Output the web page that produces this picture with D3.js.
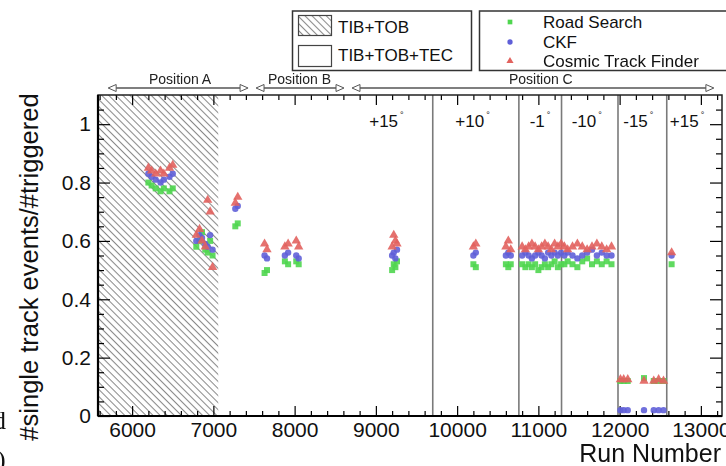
<!DOCTYPE html>
<html>
<head>
<meta charset="utf-8">
<script src="https://cdn.jsdelivr.net/npm/d3@7"></script>
<style>
  html, body { margin: 0; padding: 0; background: #fff; }
  svg { display: block; font-family: "Liberation Sans", Arial, Helvetica, sans-serif; }
</style>
</head>
<body>
<svg id="chart" width="726" height="466"></svg>
<script>
// Run numbers and single-track efficiency per tracking algorithm
const runs = [
  6200, 6240, 6290, 6350, 6390, 6460, 6500,
  6790, 6830, 6860, 6900, 6930, 6960, 6990,
  7270, 7300,
  7630, 7660,
  7880, 7920, 8020, 8050,
  9200, 9220, 9240, 9260,
  10200, 10230,
  10600, 10630, 10660,
  10800, 10840, 10880, 10920, 10960, 11000, 11040, 11080, 11120, 11160, 11200, 11240,
  11280, 11320, 11360, 11420, 11480, 11540, 11600, 11660, 11720, 11780, 11840, 11900,
  12010, 12050, 12100, 12300, 12420, 12480, 12540,
  12640
];
const roadSearch = [
  0.80, 0.79, 0.78, 0.77, 0.78, 0.77, 0.78,
  0.58, 0.60, 0.63, 0.57, 0.56, 0.60, 0.55,
  0.65, 0.66,
  0.49, 0.50,
  0.53, 0.52, 0.53, 0.52,
  0.50, 0.52, 0.51, 0.53,
  0.52, 0.51,
  0.52, 0.51, 0.52,
  0.52, 0.51, 0.52, 0.51, 0.52, 0.50, 0.51, 0.52, 0.51, 0.52, 0.53, 0.51,
  0.52, 0.52, 0.53, 0.52, 0.51, 0.53, 0.54, 0.52, 0.53, 0.52, 0.53, 0.52,
  0.12, 0.12, 0.12, 0.13, 0.12, 0.12, 0.12,
  0.52
];
const ckf = [
  0.83, 0.82, 0.81, 0.80, 0.81, 0.82, 0.83,
  0.60, 0.62, 0.61, 0.59, 0.58, 0.62, 0.57,
  0.71, 0.72,
  0.55, 0.54,
  0.55, 0.56, 0.55, 0.54,
  0.55, 0.56, 0.54, 0.57,
  0.55, 0.56,
  0.55, 0.56, 0.55,
  0.55, 0.56, 0.55, 0.54, 0.55, 0.56, 0.55, 0.54, 0.56, 0.55, 0.56, 0.55,
  0.56, 0.55, 0.56, 0.55, 0.54, 0.55, 0.56, 0.57, 0.55, 0.56, 0.55, 0.55,
  0.02, 0.02, 0.02, 0.02, 0.02, 0.02, 0.02,
  0.55
];
const cosmicTF = [
  0.85, 0.84, 0.83, 0.84, 0.83, 0.85, 0.86,
  0.62, 0.64, 0.60, 0.58, 0.74, 0.70, 0.51,
  0.73, 0.75,
  0.59, 0.57,
  0.58, 0.59, 0.60, 0.58,
  0.58, 0.62, 0.60, 0.59,
  0.58, 0.59,
  0.58, 0.60, 0.57,
  0.58, 0.57, 0.58, 0.59, 0.58, 0.57, 0.58, 0.59, 0.58, 0.57, 0.59, 0.58,
  0.59, 0.58, 0.57, 0.58, 0.59, 0.58, 0.57, 0.58, 0.59, 0.58, 0.57, 0.58,
  0.125, 0.125, 0.125, 0.12, 0.12, 0.125, 0.12,
  0.56
];

// Detector configuration and geometry annotations (in run numbers)
const tibTobEndRun = 7060;
const separatorRuns = [9700, 10760, 11285, 11980, 12580];
const angleLabels = ["+15", "+10", "-1", "-10", "-15", "+15"];
const angleLabelRuns = [9130, 10190, 11020, 11595, 12230, 12830];
const positionNames = ["Position A", "Position B", "Position C"];
const positionStartRuns = [5705, 7525, 8706];
const positionEndRuns = [7427, 8608, 13160];
const positionLabelRuns = [6590, 8060, 11030];

// Axis ticks
const xMajorTicks = [6000, 7000, 8000, 9000, 10000, 11000, 12000, 13000];
const xMinorTicks = d3.range(5600, 13300, 200).filter(v => v % 1000 !== 0);
const yMajorTicks = [0, 0.2, 0.4, 0.6, 0.8, 1];
const yMinorTicks = [0.05, 0.1, 0.15, 0.25, 0.3, 0.35, 0.45, 0.5, 0.55, 0.65, 0.7, 0.75, 0.85, 0.9, 0.95, 1.05];

const seriesNames = ["Road Search", "CKF", "Cosmic Track Finder"];
const seriesColors = ["#4fd64f", "#5f5fd8", "#e2625e"];

const svg = d3.select("#chart");
const plot = { left: 98, right: 722, top: 95, bottom: 416 };

const x = d3.scaleLinear().domain([5580, 13260]).range([plot.left, plot.right]);
const y = d3.scaleLinear().domain([0, 1.1]).range([plot.bottom, plot.top]);

// Hatch pattern for the TIB+TOB period
const defs = svg.append("defs");
defs.append("pattern")
  .attr("id", "hatch")
  .attr("patternUnits", "userSpaceOnUse")
  .attr("width", 5).attr("height", 5)
  .attr("patternTransform", "rotate(45)")
  .append("line")
  .attr("x1", 0).attr("y1", 0.5).attr("x2", 5).attr("y2", 0.5)
  .attr("stroke", "#8a8a8a").attr("stroke-width", 1.1);

defs.append("clipPath").attr("id", "plotclip")
  .append("rect")
  .attr("x", plot.left).attr("y", plot.top)
  .attr("width", plot.right - plot.left).attr("height", plot.bottom - plot.top);

// Soft edge for the small markers
defs.append("filter").attr("id", "soft")
  .attr("x", "-50%").attr("y", "-50%").attr("width", "200%").attr("height", "200%")
  .append("feGaussianBlur").attr("stdDeviation", 0.6);

// Hatched band
svg.append("rect")
  .attr("x", x(5580)).attr("y", plot.top)
  .attr("width", x(tibTobEndRun) - x(5580))
  .attr("height", plot.bottom - plot.top)
  .attr("fill", "url(#hatch)");

// Angle separators
svg.append("g").selectAll("line")
  .data(separatorRuns).join("line")
  .attr("x1", d => x(d)).attr("x2", d => x(d))
  .attr("y1", plot.top).attr("y2", plot.bottom)
  .attr("stroke", "#7a7a7a").attr("stroke-width", 1.6);

// Angle labels
const angleG = svg.append("g").attr("font-size", 17).attr("fill", "#111");
angleLabels.forEach((lab, i) => {
  const t = angleG.append("text")
    .attr("x", x(angleLabelRuns[i])).attr("y", 127)
    .attr("text-anchor", "middle");
  t.append("tspan").text(lab);
  t.append("tspan").attr("font-size", 9).attr("dx", 2).attr("dy", -9).text("°");
});

// Axes: major and minor ticks drawn inside the frame
function tickAxis(axis, vals, size, labels) {
  return axis.tickValues(vals).tickSizeInner(-size).tickSizeOuter(0)
    .tickFormat(labels ? labels : () => "");
}
function styleAxis(g) {
  g.select(".domain").remove();
  g.selectAll(".tick line").attr("stroke", "#000").attr("stroke-width", 1.2);
}

svg.append("g").attr("transform", `translate(0,${plot.bottom})`)
  .call(tickAxis(d3.axisBottom(x), xMajorTicks, 10, d => String(d)).tickPadding(6))
  .call(styleAxis)
  .call(g => g.selectAll("text").attr("font-size", 21).attr("fill", "#111")
    .attr("font-family", "Liberation Sans, Arial, sans-serif"));
svg.append("g").attr("transform", `translate(0,${plot.bottom})`)
  .call(tickAxis(d3.axisBottom(x), xMinorTicks, 5)).call(styleAxis);
svg.append("g").attr("transform", `translate(0,${plot.top})`)
  .call(tickAxis(d3.axisTop(x), xMajorTicks, 10)).call(styleAxis);
svg.append("g").attr("transform", `translate(0,${plot.top})`)
  .call(tickAxis(d3.axisTop(x), xMinorTicks, 5)).call(styleAxis);

svg.append("g").attr("transform", `translate(${plot.left},0)`)
  .call(tickAxis(d3.axisLeft(y), yMajorTicks, 12, d => String(d)).tickPadding(7))
  .call(styleAxis)
  .call(g => g.selectAll("text").attr("font-size", 21).attr("fill", "#111")
    .attr("font-family", "Liberation Sans, Arial, sans-serif"));
svg.append("g").attr("transform", `translate(${plot.left},0)`)
  .call(tickAxis(d3.axisLeft(y), yMinorTicks, 6)).call(styleAxis);
svg.append("g").attr("transform", `translate(${plot.right},0)`)
  .call(tickAxis(d3.axisRight(y), yMajorTicks, 12)).call(styleAxis);
svg.append("g").attr("transform", `translate(${plot.right},0)`)
  .call(tickAxis(d3.axisRight(y), yMinorTicks, 6)).call(styleAxis);

// Frame
svg.append("rect")
  .attr("x", plot.left).attr("y", plot.top)
  .attr("width", plot.right - plot.left).attr("height", plot.bottom - plot.top)
  .attr("fill", "none").attr("stroke", "#222").attr("stroke-width", 1.5);
svg.append("line")
  .attr("x1", plot.left).attr("x2", plot.left).attr("y1", plot.top).attr("y2", plot.bottom)
  .attr("stroke", "#000").attr("stroke-width", 2.2);
svg.append("line")
  .attr("x1", plot.left).attr("x2", plot.right).attr("y1", plot.bottom).attr("y2", plot.bottom)
  .attr("stroke", "#000").attr("stroke-width", 2.2);

// Markers
const sym = [d3.symbolSquare, d3.symbolCircle, d3.symbolTriangle];
const symSize = [36, 32, 38];
const seriesValues = [roadSearch, ckf, cosmicTF];
const markG = svg.append("g").attr("clip-path", "url(#plotclip)")
  .append("g").attr("filter", "url(#soft)");
seriesValues.forEach((vals, s) => {
  markG.append("g").selectAll("path")
    .data(runs.map((r, i) => [r, vals[i]])).join("path")
    .attr("transform", d => `translate(${x(d[0])},${y(d[1])})`)
    .attr("d", d3.symbol(sym[s], symSize[s]))
    .attr("fill", seriesColors[s])
    .attr("fill-opacity", 0.9);
});

// Position arrows above the frame
const posG = svg.append("g");
function arrowHead(g, xTip, yy, dir) {
  const len = 8, half = 3.5;
  g.append("path")
    .attr("d", `M${xTip},${yy} L${xTip - dir * len},${yy - half} L${xTip - dir * len},${yy + half} Z`)
    .attr("fill", "#fff").attr("stroke", "#555").attr("stroke-width", 1);
}
positionNames.forEach((name, i) => {
  const x1 = x(positionStartRuns[i]), x2 = x(positionEndRuns[i]);
  const yy = 88;
  posG.append("line").attr("x1", x1 + 6).attr("x2", x2 - 6).attr("y1", yy).attr("y2", yy)
    .attr("stroke", "#555").attr("stroke-width", 1.3);
  arrowHead(posG, x1, yy, -1);
  arrowHead(posG, x2, yy, 1);
  posG.append("text")
    .attr("x", x(positionLabelRuns[i])).attr("y", 84)
    .attr("text-anchor", "middle").attr("font-size", 14).attr("fill", "#222")
    .text(name);
});

// Axis titles
svg.append("text")
  .attr("x", 721).attr("y", 462).attr("text-anchor", "end")
  .attr("font-size", 25).attr("fill", "#111").text("Run Number");
svg.append("text")
  .attr("transform", "translate(38,267) rotate(-90)")
  .attr("text-anchor", "middle").attr("font-size", 25.5).attr("fill", "#111")
  .text("#single track events/#triggered");

// Detector legend
const leg1 = svg.append("g");
leg1.append("rect").attr("x", 292.5).attr("y", 11).attr("width", 179).attr("height", 59.5)
  .attr("fill", "#fff").attr("stroke", "#333").attr("stroke-width", 1.5);
leg1.append("rect").attr("x", 298.5).attr("y", 15.5).attr("width", 33).attr("height", 20)
  .attr("fill", "url(#hatch)").attr("stroke", "#444").attr("stroke-width", 1.2);
leg1.append("rect").attr("x", 298.5).attr("y", 45.5).attr("width", 33).attr("height", 21)
  .attr("fill", "#fff").attr("stroke", "#444").attr("stroke-width", 1.2);
leg1.append("text").attr("x", 338).attr("y", 33).attr("font-size", 17).attr("fill", "#111").text("TIB+TOB");
leg1.append("text").attr("x", 338).attr("y", 61).attr("font-size", 17).attr("fill", "#111").text("TIB+TOB+TEC");

// Algorithm legend
const leg2 = svg.append("g");
leg2.append("rect").attr("x", 479.5).attr("y", 11).attr("width", 260).attr("height", 59.5)
  .attr("fill", "#fff").attr("stroke", "#333").attr("stroke-width", 1.5);
const legendY = [22, 42, 61];
seriesNames.forEach((name, s) => {
  leg2.append("path")
    .attr("transform", `translate(510,${legendY[s]})`)
    .attr("d", d3.symbol(sym[s], 22))
    .attr("fill", seriesColors[s]);
  leg2.append("text").attr("x", 543).attr("y", legendY[s] + 6)
    .attr("font-size", 17).attr("fill", "#111").text(name);
});

// Surrounding page text at the left edge
svg.append("text").attr("x", -7).attr("y", 429)
  .attr("font-family", "Liberation Serif, serif").attr("font-size", 26).attr("fill", "#111").text("d");
svg.append("text").attr("x", -3).attr("y", 468)
  .attr("font-family", "Liberation Serif, serif").attr("font-size", 26).attr("fill", "#111").text(")");
</script>
</body>
</html>
